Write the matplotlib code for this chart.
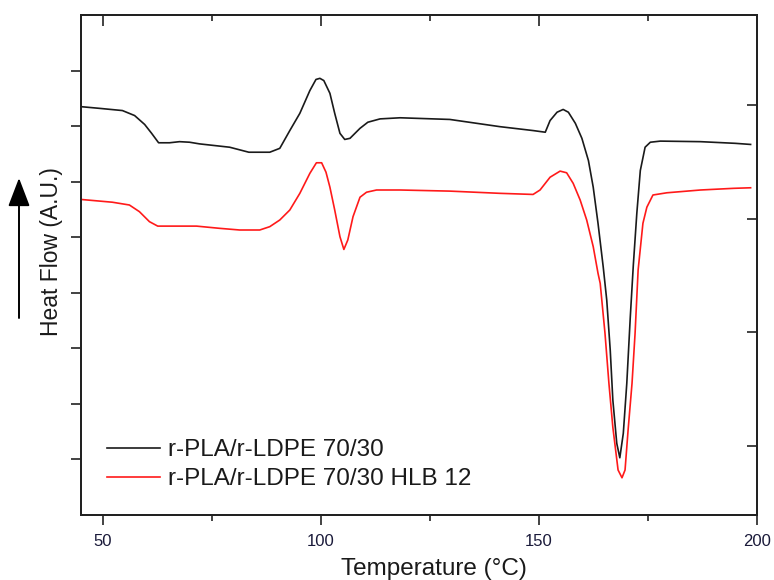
import matplotlib
matplotlib.use("Agg")
import matplotlib.pyplot as plt

plt.rcParams['font.family'] = ['Liberation Sans', 'DejaVu Sans']

# DSC heating scans: temperature (°C) vs heat flow (arbitrary units, endo down)
temp_blend = [45.0, 49.2, 54.5, 57.3, 59.6, 61.2, 62.8, 65.3, 67.6, 69.9, 72.2, 79.1,
              83.5, 88.3, 90.6, 92.9, 95.2, 97.5, 98.9, 99.8, 100.7, 102.1, 103.2,
              104.4, 105.5, 106.7, 109.0, 110.8, 113.6, 118.2, 129.6, 141.1, 148.7,
              151.5, 152.6, 154.2, 155.6, 156.8, 158.4, 159.9, 161.4, 162.5, 163.6,
              164.8, 165.6, 166.4, 167.0, 167.9, 168.6, 169.4, 170.2, 171.0, 171.7,
              172.5, 173.3, 174.4, 175.6, 177.9, 187.1, 195.1, 198.6]
hf_blend = [7.35, 7.32, 7.28, 7.19, 7.03, 6.87, 6.70, 6.70, 6.72, 6.71, 6.68, 6.62,
            6.53, 6.53, 6.60, 6.92, 7.23, 7.64, 7.84, 7.86, 7.82, 7.59, 7.23,
            6.87, 6.76, 6.78, 6.96, 7.07, 7.13, 7.15, 7.12, 6.99, 6.92,
            6.89, 7.10, 7.25, 7.30, 7.25, 7.05, 6.78, 6.38, 5.90, 5.25,
            4.46, 3.87, 2.97, 2.07, 1.29, 1.03, 1.47, 2.37, 3.56, 4.50,
            5.43, 6.20, 6.62, 6.71, 6.73, 6.72, 6.69, 6.67]

temp_hlb = [45.0, 52.2, 56.1, 58.4, 60.7, 62.6, 71.5, 76.8, 81.4, 86.0, 88.3, 90.6,
            92.9, 95.2, 97.5, 99.0, 100.2, 101.2, 102.1, 103.2, 104.4, 105.3, 106.2,
            107.4, 109.0, 110.5, 112.8, 118.2, 129.6, 141.1, 148.7, 150.3, 152.6,
            154.9, 156.4, 157.9, 159.5, 161.0, 162.5, 163.6, 164.1, 165.2, 166.1,
            167.0, 168.2, 169.1, 169.8, 170.5, 171.4, 172.1, 172.8, 173.9, 174.8,
            176.2, 179.4, 187.1, 194.7, 198.6]
hf_hlb = [5.68, 5.63, 5.58, 5.46, 5.28, 5.20, 5.20, 5.16, 5.13, 5.13, 5.19, 5.31,
          5.49, 5.79, 6.15, 6.34, 6.34, 6.17, 5.90, 5.49, 5.01, 4.78, 4.95,
          5.37, 5.72, 5.81, 5.85, 5.85, 5.83, 5.79, 5.77, 5.85, 6.08,
          6.19, 6.16, 5.97, 5.67, 5.31, 4.83, 4.35, 4.17, 3.27, 2.37,
          1.58, 0.81, 0.67, 0.81, 1.53, 2.37, 3.27, 4.41, 5.25, 5.54,
          5.76, 5.80, 5.85, 5.88, 5.89]

series_labels = ["r-PLA/r-LDPE 70/30", "r-PLA/r-LDPE 70/30 HLB 12"]
x_ticks = [50, 100, 150, 200]
x_minor = [75, 125, 175]

fig = plt.figure(figsize=(7.74, 5.80), dpi=100)
ax = fig.add_axes([81 / 774, 65 / 580, 675.7 / 774, 500 / 580])

ax.plot(temp_blend, hf_blend, color="#1a1a1a", lw=1.2, label=series_labels[0])
ax.plot(temp_hlb, hf_hlb, color="#ff1a1a", lw=1.2, label=series_labels[1])

ax.set_xlim(45, 200)
ax.set_ylim(0, 9)

for s in ax.spines.values():
    s.set_linewidth(1.3)
    s.set_color("#222222")

ax.set_xticks(x_ticks)
ax.set_xticks(x_minor, minor=True)
ax.set_yticks([1, 2, 3, 4, 5, 6, 7, 8])
ax.set_yticklabels([])
ax.tick_params(axis="x", which="major", direction="out", length=7, width=1.2,
               labelsize=12, pad=7, colors="#222222", labelcolor="#1a1a3a",
               top=False)
ax.tick_params(axis="x", which="minor", direction="out", length=4, width=1.2,
               colors="#222222", top=False)
ax.tick_params(axis="y", which="major", direction="out", length=7, width=1.2,
               colors="#222222", right=False)

# mirrored inward ticks on top
top = ax.twiny()
top.set_xlim(ax.get_xlim())
top.set_xticks(x_ticks)
top.set_xticks(x_minor, minor=True)
top.set_xticklabels([])
top.tick_params(axis="x", which="major", direction="in", length=8, width=1.2, colors="#222222")
top.tick_params(axis="x", which="minor", direction="in", length=4, width=1.2, colors="#222222")

# secondary heat-flow scale on the right, inward ticks
right = ax.twinx()
right.set_ylim(-0.607, 3.79)
right.set_yticks([0, 1, 2, 3])
right.set_yticklabels([])
right.tick_params(axis="y", direction="in", length=7, width=1.2, colors="#222222")

for a in (top, right):
    for s in a.spines.values():
        s.set_linewidth(1.3)
        s.set_color("#222222")

ax.set_xlabel("Temperature (°C)", fontsize=17.5, color="#1a1a1a")
ax.xaxis.set_label_coords(0.522, -0.085)
ax.set_ylabel("Heat Flow (A.U.)", fontsize=16.5, color="#1a1a1a")
ax.yaxis.set_label_coords(-0.026, 0.526)

# heat-flow direction arrow
ax.annotate("", xy=(19, 402), xytext=(19, 262), xycoords="figure pixels",
            textcoords="figure pixels",
            arrowprops=dict(arrowstyle="-|>,head_length=1.1,head_width=0.42",
                            color="black", lw=1.4, shrinkA=0, shrinkB=0,
                            mutation_scale=16))

leg = ax.legend(loc="upper left", bbox_to_anchor=(0.0385, 0.152), frameon=False,
                fontsize=17.5, handlelength=2.2, handletextpad=0.3,
                labelspacing=0.3, borderpad=0, borderaxespad=0)
for t in leg.get_texts():
    t.set_color("#1a1a1a")

fig.savefig("out.png", dpi=100, facecolor="white")
